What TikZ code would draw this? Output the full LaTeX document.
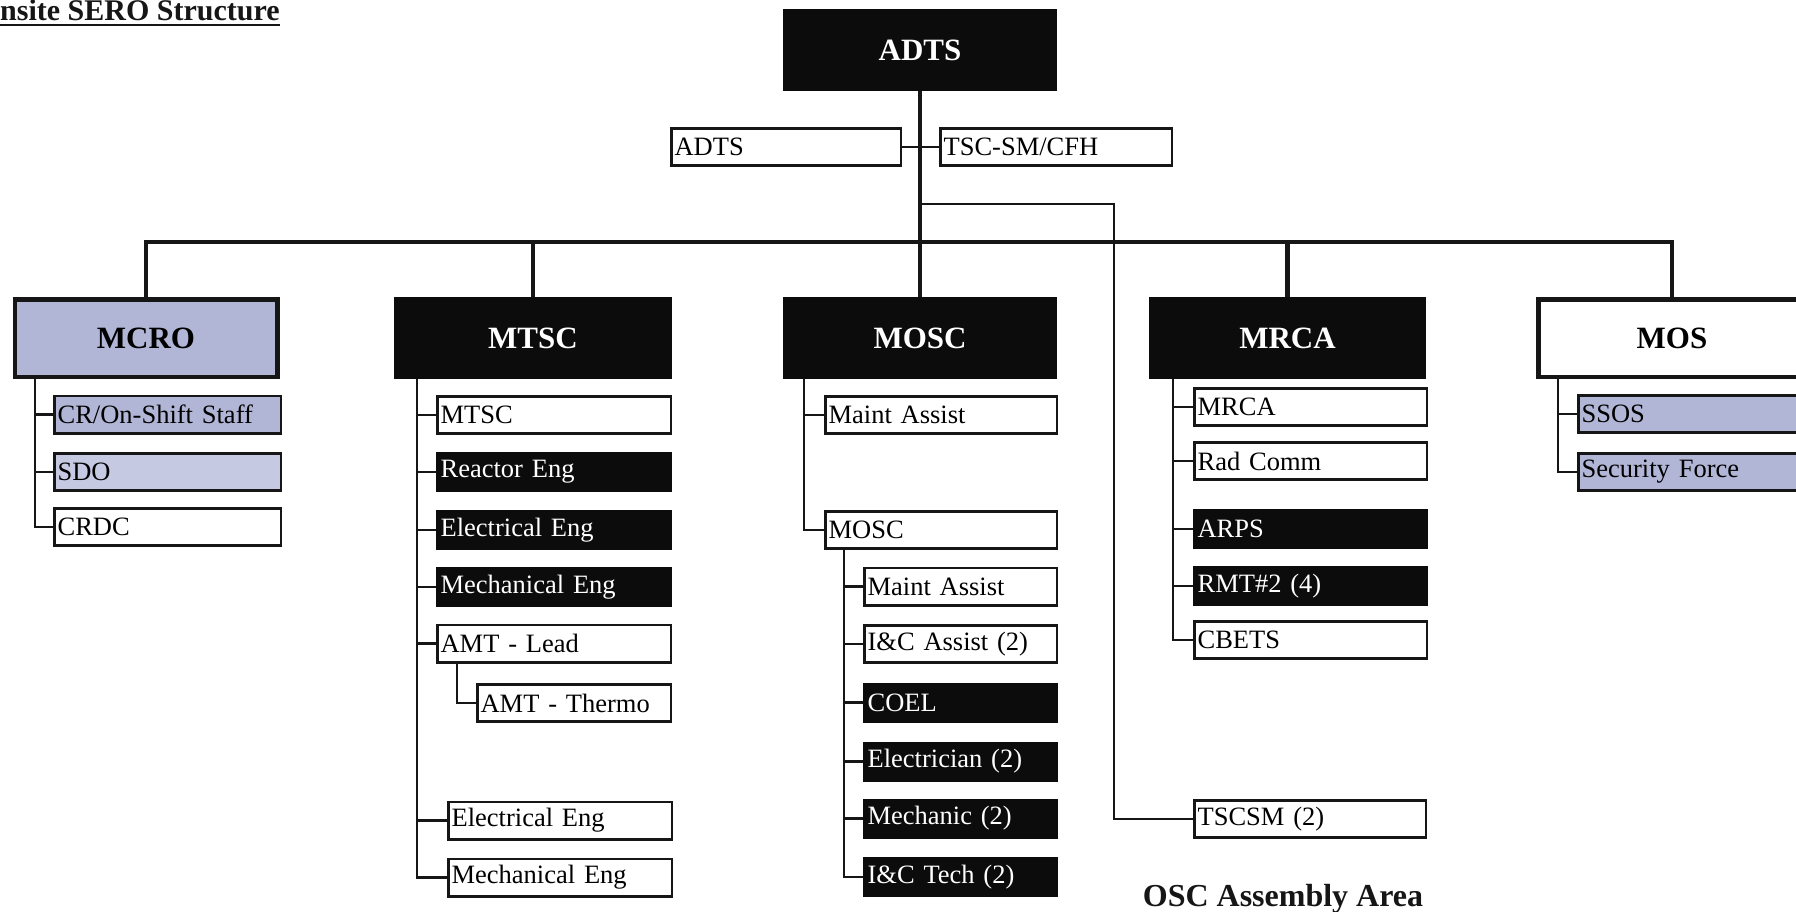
\documentclass[tikz,border=0pt]{standalone}
\usepackage{fontspec}
\setmainfont{Liberation Serif}
\newcommand\sbfont{\fontsize{26.5pt}{30pt}\selectfont}
\newcommand\hdfont{\fontsize{31pt}{34pt}\selectfont\bfseries}
\newcommand\ttlfont{\fontsize{30pt}{34pt}\selectfont\bfseries}
\newcommand\oscfont{\fontsize{32pt}{36pt}\selectfont\bfseries}
\definecolor{lav}{RGB}{178,182,214}
\definecolor{lavlight}{RGB}{198,201,226}
\definecolor{boxblack}{RGB}{12,12,12}
\definecolor{inkc}{RGB}{22,22,22}
\begin{document}
\begin{tikzpicture}[x=1pt,y=-1pt,
  ink/.style={line width=2.6pt, draw=inkc},
  heavy/.style={line width=4.5pt, draw=inkc},
  sub/.style={draw=inkc, line width=2.6pt, fill=white, text=black, rectangle,
    minimum height=37.4pt, inner xsep=3pt, inner ysep=0pt, anchor=west,
    align=left, font=\sbfont},
  subdark/.style={sub, fill=boxblack, draw=boxblack, text=white},
  sublav/.style={sub, fill=lav},
  sublavl/.style={sub, fill=lavlight},
  head/.style={rectangle, line width=4.5pt, draw=inkc, fill=white, inner sep=0pt,
    minimum height=77.5pt, font=\hdfont, text=black},
  headdark/.style={head, fill=boxblack, draw=boxblack, text=white},
  headlav/.style={head, fill=lav}]

\path[use as bounding box, fill=white] (0,0) rectangle (1796,912);

% title
\node[anchor=base west, font=\ttlfont, inner sep=0pt, text=inkc] (title) at (0,20.5) {nsite SERO Structure};
\draw[line width=2pt, draw=inkc] ([yshift=-4.5pt]title.base west) -- ([yshift=-4.5pt]title.base east);

% top of the tree
\node[headdark, minimum width=269.5pt] (adts) at (920,50) {ADTS};
\node[sub, text width=223.4pt] (adtsB) at (670.3,147) {ADTS};
\node[sub, text width=225.4pt] (tscB) at (939.3,147) {TSC-SM/CFH};

% group heads
\node[headlav,  minimum width=262.5pt] (mcro) at (146,338) {MCRO};
\node[headdark, minimum width=273.5pt] (mtsc) at (533,338) {MTSC};
\node[headdark, minimum width=269.5pt] (mosc) at (920,338) {MOSC};
\node[headdark, minimum width=272.5pt] (mrca) at (1287.5,338) {MRCA};
\node[head,     minimum width=267.5pt] (mos)  at (1672,338) {MOS};

% trunk and bus
\coordinate (busL) at (147,242);
\coordinate (tapR) at (1114,204);
\draw[heavy] (adts.south) -- (mosc.north);
\draw[heavy] (mcro.north) -- (mcro.north |- busL) -- (mos.north |- busL) -- (mos.north);
\draw[heavy] (mtsc.north) -- (mtsc.north |- busL);
\draw[heavy] (mrca.north) -- (mrca.north |- busL);
\draw[ink] (adtsB.east) -- (tscB.west);

% MCRO group
\node[sublav,  text width=220.4pt] (cr)   at (53.3,414.5) {CR/On-Shift Staff};
\node[sublavl, text width=220.4pt] (sdo)  at (53.3,472)   {SDO};
\node[sub,     text width=220.4pt] (crdc) at (53.3,527)   {CRDC};
\coordinate (mcroBr) at (35,379);
\foreach \c in {cr,sdo,crdc} \draw[ink] (mcroBr) |- (\c.west);

% MTSC group
\node[sub,     text width=227.4pt] (mtscS) at (436.3,415)   {MTSC};
\node[subdark, text width=227.4pt] (reac)  at (436.3,472)   {Reactor Eng};
\node[subdark, text width=227.4pt] (elec)  at (436.3,530)   {Electrical Eng};
\node[subdark, text width=227.4pt] (mech)  at (436.3,587)   {Mechanical Eng};
\node[sub,     text width=227.4pt] (amtL)  at (436.3,643.5) {AMT - Lead};
\node[sub,     text width=187.4pt] (amtT)  at (476.3,703)   {AMT - Thermo};
\node[sub,     text width=217.4pt] (elec2) at (447.3,820.5) {Electrical Eng};
\node[sub,     text width=217.4pt] (mech2) at (447.3,877.5) {Mechanical Eng};
\coordinate (mtscBr) at (417,379);
\foreach \c in {mtscS,reac,elec,mech,amtL,elec2,mech2} \draw[ink] (mtscBr) |- (\c.west);
\coordinate (amtBr) at (457,664);
\draw[ink] (amtBr) |- (amtT.west);

% MOSC group
\node[sub,     text width=225.4pt] (maint1) at (824.3,415)   {Maint Assist};
\node[sub,     text width=225.4pt] (moscS)  at (824.3,530)   {MOSC};
\node[sub,     text width=186.4pt] (maint2) at (863.3,586.5) {Maint Assist};
\node[sub,     text width=186.4pt] (icA)    at (863.3,644)   {I\&C Assist (2)};
\node[subdark, text width=186.4pt] (coel)   at (863.3,702.5) {COEL};
\node[subdark, text width=186.4pt] (elecn)  at (863.3,761.5) {Electrician (2)};
\node[subdark, text width=186.4pt] (mechn)  at (863.3,818.5) {Mechanic (2)};
\node[subdark, text width=186.4pt] (ictech) at (863.3,877)   {I\&C Tech (2)};
\coordinate (moscBr) at (804,379);
\foreach \c in {maint1,moscS} \draw[ink] (moscBr) |- (\c.west);
\coordinate (moscSub) at (844,549);
\foreach \c in {maint2,icA,coel,elecn,mechn,ictech} \draw[ink] (moscSub) |- (\c.west);

% MRCA group
\node[sub,     text width=226.4pt] (mrcaS) at (1193.3,407) {MRCA};
\node[sub,     text width=226.4pt] (rad)   at (1193.3,461) {Rad Comm};
\node[subdark, text width=226.4pt] (arps)  at (1193.3,529) {ARPS};
\node[subdark, text width=226.4pt] (rmt)   at (1193.3,586) {RMT\#2 (4)};
\node[sub,     text width=226.4pt] (cbets) at (1193.3,640) {CBETS};
\coordinate (mrcaBr) at (1173,379);
\foreach \c in {mrcaS,rad,arps,rmt,cbets} \draw[ink] (mrcaBr) |- (\c.west);

% TSC staff in the OSC
\node[sub, text width=225.4pt] (tscsm) at (1193.3,819) {TSCSM (2)};
\draw[ink] (adts.south |- tapR) -- (tapR) |- (tscsm.west);
\node[font=\oscfont, anchor=base, inner sep=0pt, text=inkc] (osc) at (1283,906) {OSC Assembly Area};

% MOS group
\node[sublav, text width=226.4pt] (ssos) at (1577.3,414) {SSOS};
\node[sublav, text width=226.4pt] (secf) at (1577.3,472) {Security Force};
\coordinate (mosBr) at (1558,378);
\foreach \c in {ssos,secf} \draw[ink] (mosBr) |- (\c.west);

\end{tikzpicture}
\end{document}
